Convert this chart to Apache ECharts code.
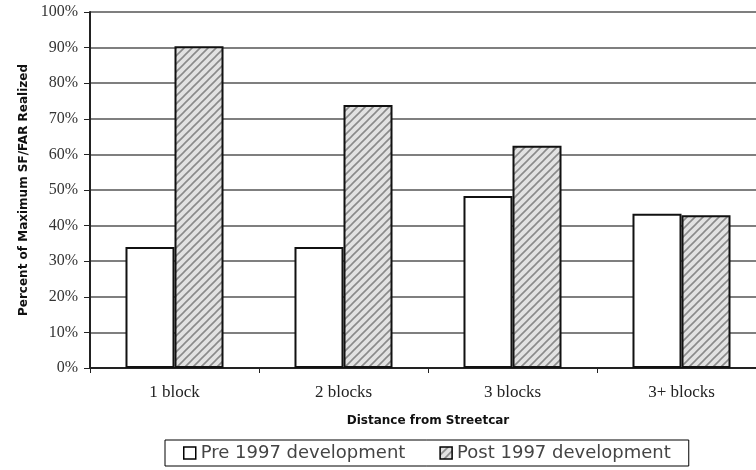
<!DOCTYPE html>
<html>
<head>
<meta charset="utf-8">
<script src="https://cdn.jsdelivr.net/npm/echarts@6/dist/echarts.min.js"></script>
<style>
  html, body { margin: 0; padding: 0; background: #fff; overflow: hidden; }
  /* the original plot runs past the right edge of the picture, so the
     chart is a little wider than the window and gets cropped */
  #chart { width: 766px; height: 470px; }
</style>
</head>
<body>
<div id="chart"></div>
<script>
// ---- data ----
const categories = ["1 block", "2 blocks", "3 blocks", "3+ blocks"];
const preValues = [34.0, 34.0, 48.3, 43.3];
const postValues = [90.4, 73.9, 62.4, 42.9];
const seriesNames = ["Pre 1997 development", "Post 1997 development"];

// hatched fill for the post-1997 bars
function makeHatch() {
  const c = document.createElement("canvas");
  c.width = 8;
  c.height = 8;
  const ctx = c.getContext("2d");
  ctx.fillStyle = "#e2e2e2";
  ctx.fillRect(0, 0, 8, 8);
  ctx.strokeStyle = "#8a8a8a";
  ctx.lineWidth = 1.6;
  ctx.beginPath();
  ctx.moveTo(-4, 4); ctx.lineTo(4, -4);
  ctx.moveTo(0, 8); ctx.lineTo(8, 0);
  ctx.moveTo(4, 12); ctx.lineTo(12, 4);
  ctx.stroke();
  return { image: c, repeat: "repeat" };
}

const chart = echarts.init(document.getElementById("chart"));

chart.setOption({
  animation: false,
  backgroundColor: "#fff",
  grid: { left: 90, right: 0, top: 12, bottom: 102, containLabel: false },
  legend: {
    data: seriesNames,
    left: 165,
    top: 440,
    padding: [4, 18],
    itemGap: 34,
    itemWidth: 12,
    itemHeight: 12,
    icon: "rect",
    borderColor: "#000",
    borderWidth: 1,
    textStyle: { fontFamily: "DejaVu Sans", fontSize: 18, color: "#444" },
    itemStyle: { borderColor: "#000", borderWidth: 1.5 },
  },
  xAxis: {
    type: "category",
    data: categories,
    name: "Distance from Streetcar",
    nameLocation: "middle",
    nameGap: 47,
    nameTextStyle: { fontFamily: "DejaVu Sans", fontWeight: "bold", fontSize: 12, color: "#111" },
    axisLine: { lineStyle: { color: "#222", width: 2 } },
    axisTick: { show: true, length: 5, lineStyle: { color: "#222", width: 1 } },
    axisLabel: { margin: 16, fontFamily: "Liberation Serif", fontSize: 17, color: "#222" },
  },
  yAxis: {
    type: "value",
    min: 0,
    max: 100,
    interval: 10,
    name: "Percent of Maximum SF/FAR Realized",
    nameLocation: "middle",
    nameGap: 56,
    nameTextStyle: { fontFamily: "DejaVu Sans", fontWeight: "bold", fontSize: 12, color: "#111" },
    axisLine: { show: true, lineStyle: { color: "#222", width: 2 } },
    axisTick: { show: true, length: 6, lineStyle: { color: "#222", width: 1 } },
    axisLabel: {
      margin: 12,
      formatter: "{value}%",
      fontFamily: "Liberation Serif",
      fontSize: 16,
      color: "#333",
    },
    splitLine: { lineStyle: { color: "#555", width: 1.5 } },
  },
  series: [
    {
      name: seriesNames[0],
      type: "bar",
      data: preValues,
      barGap: "0%",
      barCategoryGap: "42%",
      itemStyle: { color: "#fff", borderColor: "#111", borderWidth: 2 },
    },
    {
      name: seriesNames[1],
      type: "bar",
      data: postValues,
      itemStyle: { color: makeHatch(), borderColor: "#111", borderWidth: 2 },
    },
  ],
});
</script>
</body>
</html>
